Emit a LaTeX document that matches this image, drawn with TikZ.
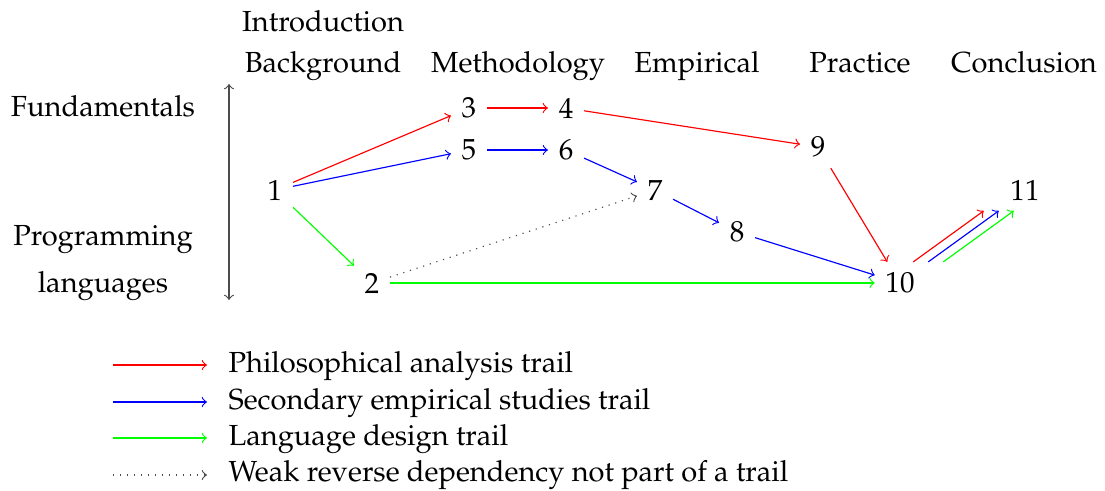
\documentclass[tikz,border=0pt]{standalone}
\usepackage[T1]{fontenc}
\usepackage{mathpazo}
\usetikzlibrary{positioning,calc}

\begin{document}
\begin{tikzpicture}[
    x=0.0121cm, y=-0.0121cm,
    font=\normalsize,
    chapter/.style={inner sep=3.5pt},
    header/.style={align=center, inner sep=2pt},
    rowlabel/.style={align=center, inner sep=2pt},
    trail/.style={->, draw=#1},
    weak/.style={->, dotted, draw=black!70},
    legendtext/.style={anchor=base west, inner xsep=0pt}
]
\useasboundingbox (0,0) rectangle (1105,491);

% column headers
\node[header, anchor=base] (intro) at (323,32) {Introduction};
\node[header, anchor=base] (background) at (323,73) {Background};
\node[header, anchor=base] (method) at (518,73) {Methodology};
\node[header, anchor=base] (empirical) at (697,73) {Empirical};
\node[header, anchor=base] (practice) at (860,73) {Practice};
\node[header, anchor=base] (conclusion) at (1024,73) {Conclusion};

% row labels
\node[rowlabel, anchor=base] (fund) at (103,117) {Fundamentals};
\node[rowlabel, anchor=base] (prog) at (103,245) {Programming};
\node[rowlabel, anchor=base] (lang) at (103,292) {languages};
\coordinate (axtop) at (229,84);
\coordinate (axbot) at (229,300);
\draw[<->, draw=black!70] (axtop) -- (axbot);

% chapters
\node[chapter] (ch1) at (275,190) {1};
\node[chapter] (ch2) at (372,283) {2};
\node[chapter] (ch3) at (469,108) {3};
\node[chapter] (ch4) at (566,108) {4};
\node[chapter] (ch5) at (469,150) {5};
\node[chapter] (ch6) at (566,150) {6};
\node[chapter] (ch7) at (655,190) {7};
\node[chapter] (ch8) at (737,232) {8};
\node[chapter] (ch9) at (818,147) {9};
\node[chapter] (ch10) at (900,283) {10};
\node[chapter] (ch11) at (1025,190) {11};

% philosophical analysis trail
\draw[trail=red] (ch1) -- (ch3);
\draw[trail=red] (ch3) -- (ch4);
\draw[trail=red] (ch4) -- (ch9);
\draw[trail=red] (ch9) -- (ch10);
\draw[trail=red] ($(ch10.north east)+(-12,0)$) -- ($(ch11.south west)+(-16,0)$);

% secondary empirical studies trail
\draw[trail=blue] (ch1) -- (ch5);
\draw[trail=blue] (ch5) -- (ch6);
\draw[trail=blue] (ch6) -- (ch7);
\draw[trail=blue] (ch7) -- (ch8);
\draw[trail=blue] (ch8) -- (ch10);
\draw[trail=blue] ($(ch10.north east)+(3,0)$) -- ($(ch11.south west)+(-1,0)$);

% language design trail
\draw[trail=green] (ch1) -- (ch2);
\draw[trail=green] (ch2) -- (ch10);
\draw[trail=green] ($(ch10.north east)+(18,0)$) -- ($(ch11.south west)+(14,0)$);

% weak reverse dependency
\draw[weak] (ch2) -- (ch7);

% legend
\coordinate (lphil) at (113,365);
\coordinate (lsec) at (113,402);
\coordinate (llang) at (113,438);
\coordinate (lweak) at (113,475);
\node[legendtext] (tphil) at (228,372) {Philosophical analysis trail};
\node[legendtext] (tsec) at (228,409) {Secondary empirical studies trail};
\node[legendtext] (tlang) at (228,445) {Language design trail};
\node[legendtext] (tweak) at (228,481) {Weak reverse dependency not part of a trail};
\draw[trail=red] (lphil) -- ++(94,0);
\draw[trail=blue] (lsec) -- ++(94,0);
\draw[trail=green] (llang) -- ++(94,0);
\draw[weak] (lweak) -- ++(94,0);

\end{tikzpicture}
\end{document}
